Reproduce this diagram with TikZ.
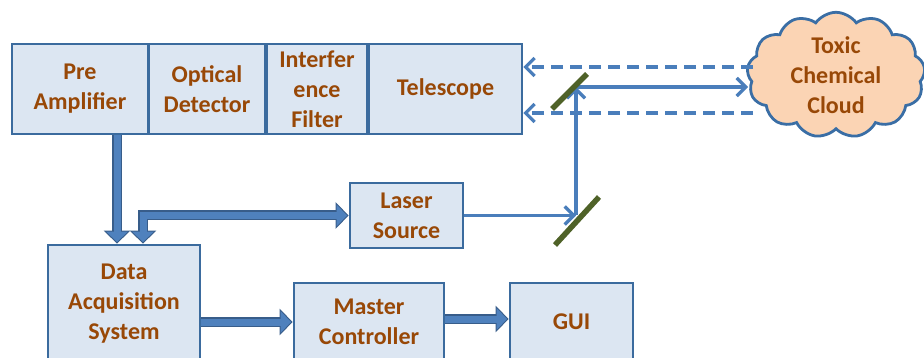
\documentclass[tikz,border=0pt]{standalone}
\usepackage{fontspec}
\setmainfont{Carlito}
\usetikzlibrary{calc}
\usetikzlibrary{arrows.meta}
\usetikzlibrary{shapes.symbols}
\usepackage{xcolor}
\definecolor{boxfill}{HTML}{DCE6F2}
\definecolor{boxedge}{HTML}{3B6B9E}
\definecolor{txtbrown}{HTML}{984807}
\definecolor{beamblue}{HTML}{4A7EBB}
\definecolor{arrowfill}{HTML}{4F81BD}
\definecolor{arrowedge}{HTML}{385D8A}
\definecolor{mirrorgreen}{HTML}{4F6228}
\definecolor{cloudfill}{HTML}{FBD4B4}
\definecolor{cloudedge}{HTML}{3A6EA5}

\tikzset{
 block/.style={draw=boxedge, fill=boxfill, line width=2.8pt, text=txtbrown, font=\fontsize{24}{30}\selectfont\bfseries, align=center, inner sep=0pt},
 beam/.style={beamblue, line width=3.2pt, -{Straight Barb[length=9pt,width=18pt]}},
 dashbeam/.style={beam, dash pattern=on 12pt off 7pt},
 bigarrow/.style={arrowedge, line width=10pt, -{Triangle[length=13pt,width=26pt]}, postaction={draw=arrowfill, line width=7pt, -{Triangle[length=10.5pt,width=21pt]}, shorten >=1.5pt}},
 bigarrows/.style={arrowedge, line width=10pt, {Triangle[length=13pt,width=26pt]}-{Triangle[length=13pt,width=26pt]}, postaction={draw=arrowfill, line width=7pt, {Triangle[length=10.5pt,width=21pt]}-{Triangle[length=10.5pt,width=21pt]}, shorten >=1.5pt, shorten <=1.5pt}},
 mirror/.style={mirrorgreen, line width=5.5pt}
}

\begin{document}
\begin{tikzpicture}[x=1pt,y=-1pt]
\useasboundingbox (0,0) rectangle (924,358);
\clip (0,0) rectangle (924,358);
\node[block, minimum width=136pt, minimum height=90pt] (preamp) at (80,89) {Pre\\Amplifier};
\node[block, minimum width=116pt, minimum height=90pt] (optdet) at (207,89) {Optical\\Detector};
\node[block, minimum width=100pt, minimum height=90pt] (filter) at (317,89) {Interfer\\ence\\Filter};
\node[block, minimum width=153pt, minimum height=90pt] (tele) at (445.5,89) {Telescope};
\node[block, minimum width=113pt, minimum height=65pt] (laser) at (406.5,215.5) {Laser\\Source};
\node[block, minimum width=152pt, minimum height=117pt] (daq) at (124,303.5) {Data\\Acquisition\\System};
\node[block, minimum width=150pt, minimum height=78pt] (master) at (369,322) {Master\\Controller};
\node[block, minimum width=123pt, minimum height=78pt] (gui) at (571.5,322) {GUI};
\node[cloud, cloud puffs=13, cloud puff arc=110, aspect=1.45, draw=cloudedge, fill=cloudfill, line width=2.8pt, minimum width=178pt, minimum height=124pt, text=txtbrown, font=\fontsize{24}{30}\selectfont\bfseries, align=center, inner sep=0pt] (cloud) at (836,75) {Toxic\\Chemical\\Cloud};

\coordinate (p1) at ([xshift=37pt]preamp.south);
\coordinate (p2) at ([xshift=19pt]daq.north);
\draw[bigarrow] (p1) -- (p1 |- daq.north);
\draw[bigarrows] (p2) |- (laser.west);
\draw[bigarrow] (daq.east |- master.west) -- (master.west);
\draw[bigarrow] ([yshift=3pt]master.east) -- ([yshift=3pt]gui.west);

\coordinate (m1) at (576,87);
\coordinate (m2) at (576,215.5);
\coordinate (c1) at (748,87);
\coordinate (c2) at (753,67);
\coordinate (c3) at (753,113);
\draw[beam] (laser.east) -- (m2);
\draw[beam] (m2) -- (m1);
\draw[beam] (m1) -- (c1);
\draw[dashbeam] (c2) -- (c2 -| tele.east);
\draw[dashbeam] (c3) -- (c3 -| tele.east);
\draw[mirror] (552,109) -- (587,74);
\draw[mirror] (555,245) -- (599,197);
\end{tikzpicture}
\end{document}
